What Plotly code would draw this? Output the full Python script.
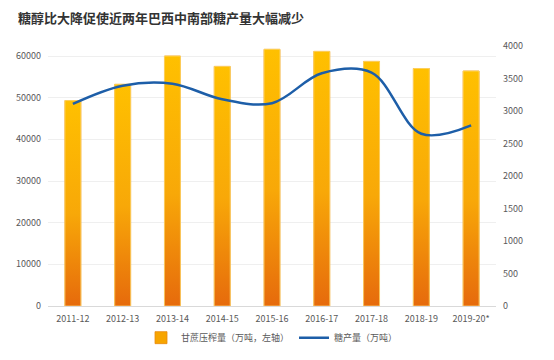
import plotly.graph_objects as go

categories = ["2011-12", "2012-13", "2013-14", "2014-15", "2015-16",
              "2016-17", "2017-18", "2018-19", "2019-20*"]
cane_crush = [49300, 53200, 60000, 57500, 61600, 61100, 58700, 57000, 56400]
sugar_output = [3110, 3390, 3420, 3180, 3120, 3580, 3590, 2650, 2780]

left_ticks = [0, 10000, 20000, 30000, 40000, 50000, 60000]
right_ticks = [0, 500, 1000, 1500, 2000, 2500, 3000, 3500, 4000]

BAR_W = 0.32
ORANGE = "#E66A0C"
YELLOW = "#FFC000"
LINE_BLUE = "#1D5EA8"
TXT = "#595959"
FONT = "Noto Sans CJK SC"

xs = list(range(len(categories)))
fig = go.Figure()

# base bar trace (legend + exact footprint)
fig.add_trace(go.Bar(
    x=xs, y=cane_crush, width=BAR_W, name="甘蔗压榨量（万吨，左轴）",
    marker=dict(color="#F7A500", line=dict(color="#E88A10", width=0.8)),
    yaxis="y", hoverinfo="skip",
))

# gradient overlay for each bar
for xi, v in zip(xs, cane_crush):
    fig.add_trace(go.Scatter(
        x=[xi - BAR_W / 2, xi + BAR_W / 2, xi + BAR_W / 2, xi - BAR_W / 2, xi - BAR_W / 2],
        y=[0, 0, v, v, 0], mode="lines", fill="toself",
        line=dict(color="rgba(255,220,120,0.9)", width=0.8),
        fillgradient=dict(type="vertical", start=0, stop=v,
                          colorscale=[[0, ORANGE], [0.45, "#F8A808"], [1, YELLOW]]),
        showlegend=False, hoverinfo="skip", yaxis="y",
    ))

fig.add_trace(go.Scatter(
    x=xs, y=sugar_output, mode="lines", name="糖产量（万吨）",
    line=dict(color=LINE_BLUE, width=2.5, shape="spline", smoothing=1.0),
    yaxis="y2",
))

fig.update_layout(
    width=554, height=360,
    margin=dict(l=40, r=66, t=38, b=62, autoexpand=False),
    paper_bgcolor="white", plot_bgcolor="white",
    font=dict(family=FONT, size=9, color=TXT),
    title=dict(text="糖醇比大降促使近两年巴西中南部糖产量大幅减少",
               x=0.018, xanchor="left", y=0.972, yanchor="middle",
               font=dict(family=FONT, size=13, color="#333333", weight="bold")),
    xaxis=dict(tickmode="array", tickvals=xs, ticktext=categories,
               range=[-0.5, len(categories) - 0.5], automargin=False,
               ticklabelstandoff=4,
               showgrid=False, zeroline=False, showline=True,
               linecolor="#D9D9D9", linewidth=1, ticks="",
               tickfont=dict(size=9, color=TXT)),
    yaxis=dict(range=[0, 62400], tickvals=left_ticks, tickformat="d",
               automargin=False, ticklabelstandoff=6,
               showgrid=True, gridcolor="#EFEFEF", gridwidth=1,
               zeroline=False, ticks="", showline=False,
               tickfont=dict(size=9, color=TXT)),
    yaxis2=dict(range=[0, 4000], tickvals=right_ticks, tickformat="d",
                automargin=False, ticklabelstandoff=6,
                overlaying="y", side="right", showgrid=False, zeroline=False,
                ticks="", showline=False, tickfont=dict(size=9, color=TXT)),
    legend=dict(orientation="h", x=0.5, xanchor="center", y=-0.066,
                yanchor="top", font=dict(size=9, color=TXT),
                itemwidth=30, tracegroupgap=0),
    bargap=0.68,
    showlegend=True,
)

fig.write_html("out.html")
